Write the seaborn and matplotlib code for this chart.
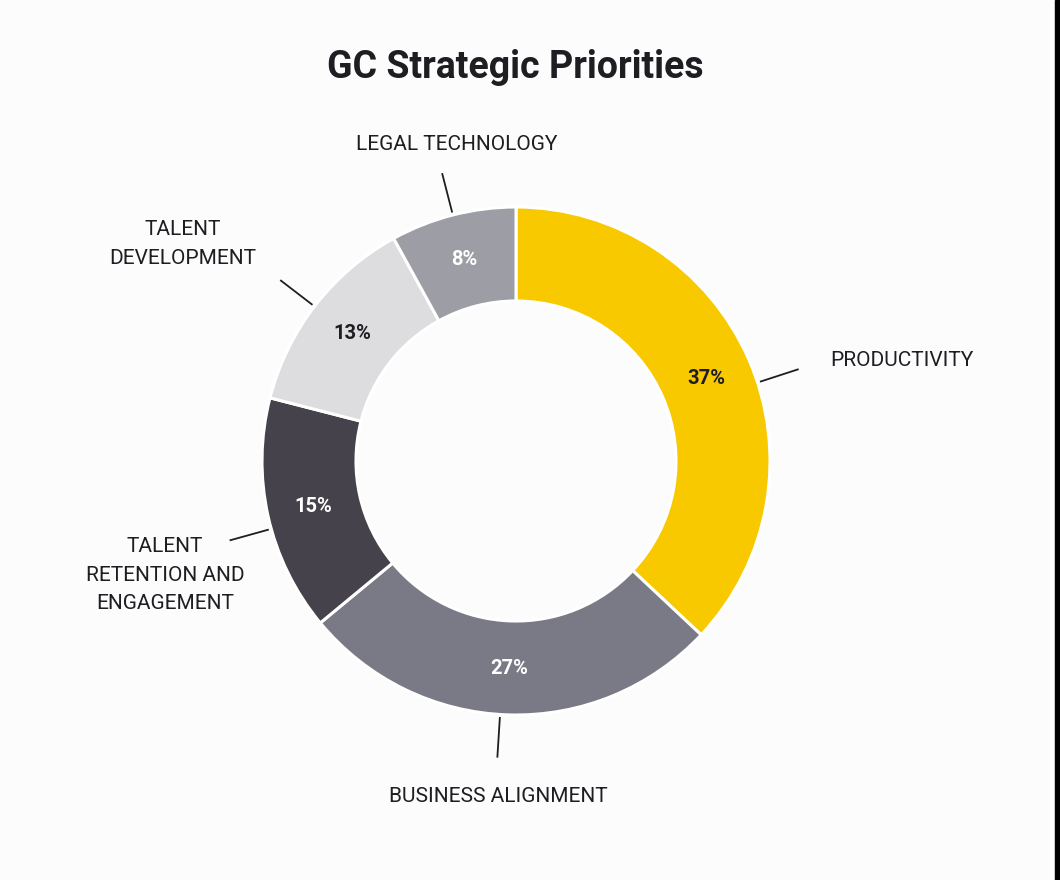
import numpy as np
import matplotlib.pyplot as plt
import matplotlib.patches as mpatches
import seaborn as sns

# data
categories = ['PRODUCTIVITY', 'BUSINESS ALIGNMENT', 'TALENT\nRETENTION AND\nENGAGEMENT',
              'TALENT\nDEVELOPMENT', 'LEGAL TECHNOLOGY']
shares = [37, 27, 15, 13, 8]
colors = ['#F9C900', '#797A86', '#45424B', '#DDDDE0', '#9D9EA5']
pct_colors = ['#1d1d22', 'white', 'white', '#1d1d22', 'white']

# where each outer label sits (relative to centre, in radius units) + alignment
label_pos = [(1.236, 0.394), (-0.071, -1.319), (-1.382, -0.449), (-1.311, 0.854), (-0.232, 1.248)]
label_ha = ['left', 'center', 'center', 'center', 'center']
# leader lines don't sit exactly on the mid angle in the original
leader_angles = [18, -93.6, 195.5, 142.5, 104.4]

sns.set_theme(style='white')
plt.rcParams['font.family'] = ['Roboto', 'DejaVu Sans']

W, H = 1060, 880
cx, cy, R = 516, 461, 254  # pixel centre / radius of the donut

fig = plt.figure(figsize=(W / 100, H / 100), dpi=100, facecolor='#fcfcfc')
ax = fig.add_axes([0, 0, 1, 1])
ax.set_facecolor('#fcfcfc')

wedges, _ = ax.pie(shares, colors=colors, startangle=90, counterclock=False,
                   radius=1, wedgeprops=dict(width=0.37, edgecolor='white', linewidth=2.2))

total = sum(shares)
cum = np.cumsum([0] + shares[:-1])
for i, v in enumerate(shares):
    mid = np.deg2rad(90 - 360 * (cum[i] + v / 2) / total)
    # percentage inside the ring
    ax.text(0.818 * np.cos(mid), 0.818 * np.sin(mid), f'{v}%', ha='center', va='center',
            fontsize=14.5, fontweight='bold', color=pct_colors[i])
    # leader line
    a = np.deg2rad(leader_angles[i])
    ax.plot([1.01 * np.cos(a), 1.17 * np.cos(a)], [1.01 * np.sin(a), 1.17 * np.sin(a)],
            color='#1d1d22', lw=1.3, solid_capstyle='butt')
    lx, ly = label_pos[i]
    ax.text(lx, ly, categories[i], ha=label_ha[i], va='center', fontsize=15,
            color='#1d1d22', linespacing=1.65, multialignment='center')

ax.set_xlim(-cx / R, (W - cx) / R)
ax.set_ylim(-(H - cy) / R, cy / R)
ax.set_aspect('auto')
ax.axis('off')

fig.text(515 / W, 1 - 68 / H, 'GC Strategic Priorities', ha='center', va='center',
         fontsize=27, fontweight='bold', color='#1d1d22')

# dark strip at the right edge of the screenshot
fig.patches.append(mpatches.Rectangle((1055 / W, 0), 5 / W, 1, transform=fig.transFigure,
                                      color='black', zorder=10))

plt.savefig('out.png', dpi=100, facecolor=fig.get_facecolor())
